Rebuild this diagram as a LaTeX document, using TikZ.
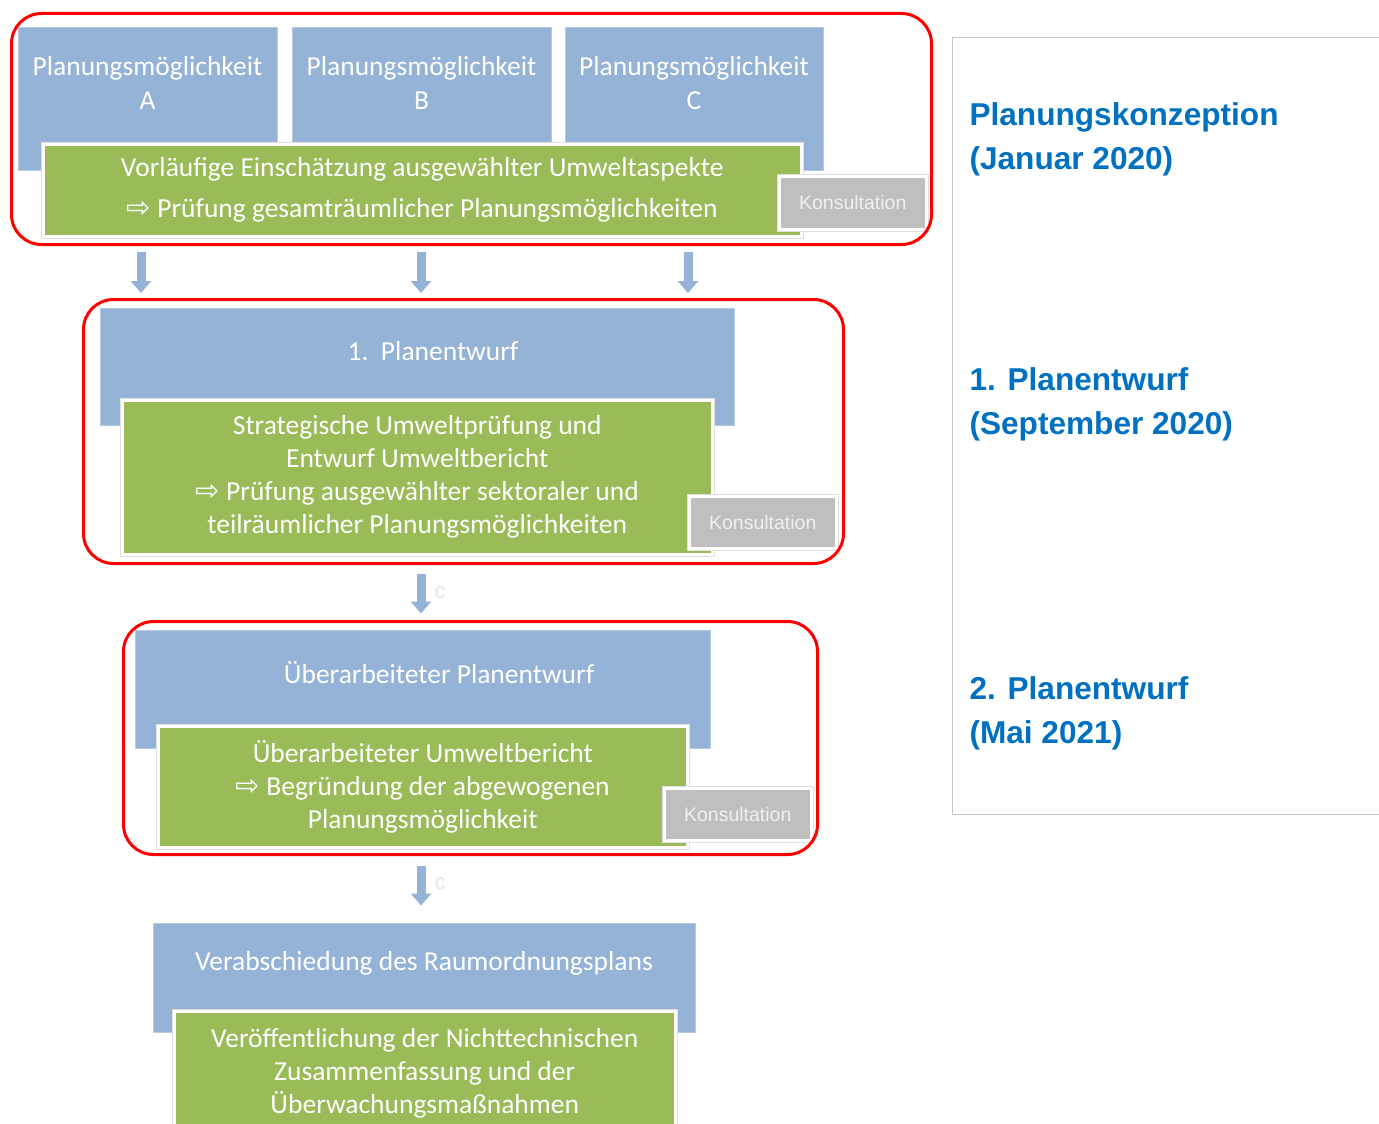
\documentclass[tikz,border=0pt]{standalone}
\usepackage{fontspec}
\setmainfont{Carlito}
\newfontfamily\arialfont{Liberation Sans}
\newfontfamily\symfont{DejaVu Sans}
\usetikzlibrary{arrows.meta}

\definecolor{planblau}{HTML}{95B3D7}
\definecolor{umweltgruen}{HTML}{9BBB59}
\definecolor{konsgrau}{HTML}{BFBFBF}
\definecolor{titelblau}{HTML}{0070C0}
\newcommand{\pfeil}{{\symfont\fontsize{29}{29}\selectfont ⇨}}

\tikzset{
  blaubox/.style={fill=planblau, draw=planblau!70!white, line width=0.8pt, anchor=north west, inner sep=0pt},
  gruenbox/.style={fill=umweltgruen, draw=white, line width=2.5pt, preaction={draw=black!12, line width=4.5pt},
    anchor=north west, inner sep=0pt, text=white, align=center, font=\fontsize{27.5}{33}\selectfont},
  konsbox/.style={fill=konsgrau, draw=white, line width=2.5pt, preaction={draw=black!12, line width=4.5pt},
    anchor=north west, inner sep=0pt, text=white!94!black, font=\arialfont\fontsize{19.5}{22}\selectfont},
  rahmen/.style={draw=red, line width=3pt, rounded corners=30pt, anchor=north west, inner sep=0pt},
  boxtext/.style={text=white, align=center, font=\fontsize{27.5}{34}\selectfont},
  phase/.style={text=titelblau, align=left, anchor=west, font=\arialfont\bfseries\fontsize{31.6}{44}\selectfont},
  blockpfeil/.style={draw=planblau, line width=9pt, -{Triangle[width=20pt,length=12pt]}},
  randc/.style={text=black!10, font=\arialfont\fontsize{22}{22}\selectfont},
}

\begin{document}
\begin{tikzpicture}[x=1pt, y=-1pt]
  \useasboundingbox (0,0) rectangle (1379,1124);

  % Planungskonzeption
  \node[blaubox, minimum width=259, minimum height=143] (optA) at (18,27) {};
  \node[blaubox, minimum width=259, minimum height=143] (optB) at (292,27) {};
  \node[blaubox, minimum width=258, minimum height=143] (optC) at (565,27) {};
  \node[boxtext] (optAtxt) at (147.5,83) {Planungsmöglichkeit\\A};
  \node[boxtext] (optBtxt) at (421.5,83) {Planungsmöglichkeit\\B};
  \node[boxtext] (optCtxt) at (694,83) {Planungsmöglichkeit\\C};
  \node[gruenbox, minimum width=758, minimum height=92] (gruen1) at (42,143)
    {Vorläufige Einschätzung ausgewählter Umweltaspekte\\[8pt]\pfeil{} Prüfung gesamträumlicher Planungsmöglichkeiten};
  \node[konsbox, minimum width=147, minimum height=53] (kons1) at (778,175) {Konsultation};
  \node[rahmen, minimum width=920, minimum height=231] (rahmen1) at (10,12) {};

  % 1. Planentwurf
  \node[blaubox, minimum width=634, minimum height=117] (entwurf1) at (100,308) {};
  \node[boxtext] (entwurf1txt) at (433,351) {1.\ \ Planentwurf};
  \node[gruenbox, minimum width=590, minimum height=154] (gruen2) at (121,399)
    {Strategische Umweltprüfung und\\Entwurf Umweltbericht\\\pfeil{} Prüfung ausgewählter sektoraler und\\teilräumlicher Planungsmöglichkeiten};
  \node[konsbox, minimum width=147, minimum height=52] (kons2) at (688,495) {Konsultation};
  \node[rahmen, minimum width=760, minimum height=264] (rahmen2) at (82,298) {};

  % 2. Planentwurf
  \node[blaubox, minimum width=575, minimum height=118] (entwurf2) at (135,630) {};
  \node[boxtext] (entwurf2txt) at (439,673) {Überarbeiteter Planentwurf};
  \node[gruenbox, minimum width=529, minimum height=121] (gruen3) at (157,725)
    {Überarbeiteter Umweltbericht\\\pfeil{} Begründung der abgewogenen\\Planungsmöglichkeit};
  \node[konsbox, minimum width=147, minimum height=52] (kons3) at (663,787) {Konsultation};
  \node[rahmen, minimum width=694, minimum height=233] (rahmen3) at (122,620) {};

  % Verabschiedung
  \node[blaubox, minimum width=542, minimum height=109] (beschluss) at (153,923) {};
  \node[boxtext] (beschlusstxt) at (424,963) {Verabschiedung des Raumordnungsplans};
  \node[gruenbox, minimum width=501, minimum height=125] (gruen4) at (173,1010)
    {Veröffentlichung der Nichttechnischen\\Zusammenfassung und der\\Überwachungsmaßnahmen};

  % Pfeile
  \coordinate (xA) at (141,0);
  \coordinate (xB) at (421,0);
  \coordinate (xC) at (688,0);
  \draw[blockpfeil] ([yshift=-6pt]rahmen1.south -| xA) -- ([yshift=5pt]rahmen2.north -| xA);
  \draw[blockpfeil] ([yshift=-6pt]rahmen1.south -| xB) -- ([yshift=5pt]rahmen2.north -| xB);
  \draw[blockpfeil] ([yshift=-6pt]rahmen1.south -| xC) -- ([yshift=5pt]rahmen2.north -| xC);
  \draw[blockpfeil] ([yshift=-8.5pt]rahmen2.south -| xB) -- ([yshift=6.5pt]rahmen3.north -| xB);
  \draw[blockpfeil] ([yshift=-9.5pt]rahmen3.south -| xB) -- ([yshift=17.5pt]beschluss.north -| xB);
  \node[randc] (c1) at (440,593) {c};
  \node[randc] (c2) at (440,884) {c};

  % Zeitleiste rechts
  \draw[black!22, line width=1pt] (1379,38) -- (952,38) -- (952,814) -- (1379,814);
  \node[phase] (phase1) at (966,139) {Planungskonzeption\\(Januar 2020)};
  \node[phase] (phase2) at (966,404) {1. Planentwurf\\(September 2020)};
  \node[phase] (phase3) at (966,713) {2. Planentwurf\\(Mai 2021)};
\end{tikzpicture}
\end{document}
